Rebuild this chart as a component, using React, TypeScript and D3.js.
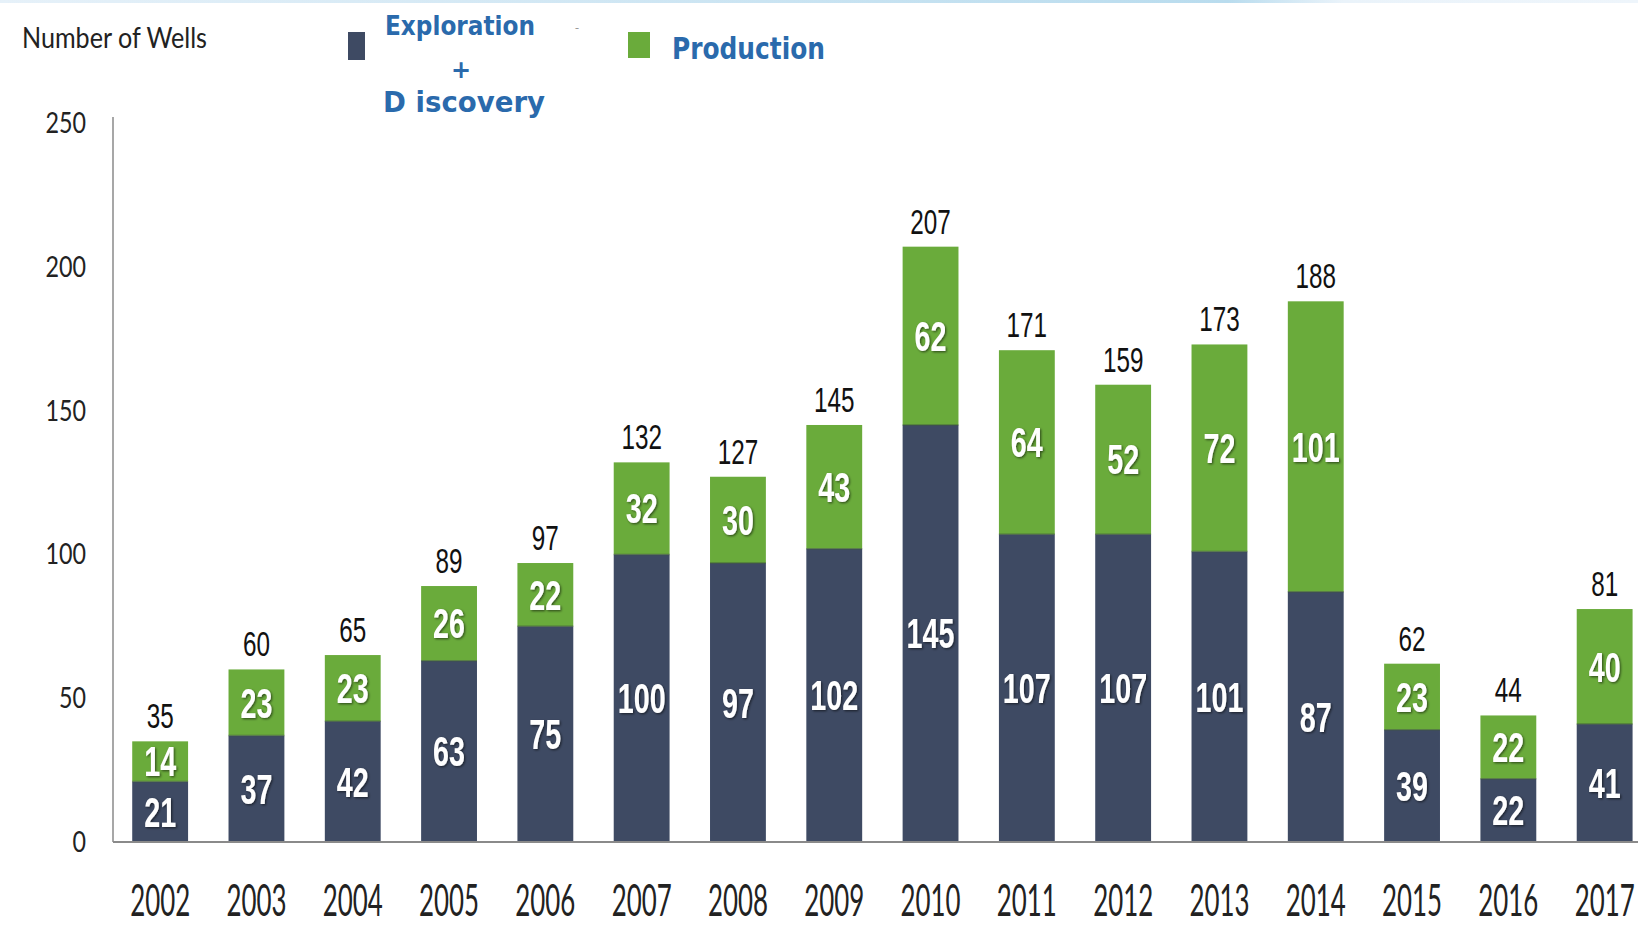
import * as d3 from 'd3'

const YEARS = ['2002', '2003', '2004', '2005', '2006', '2007', '2008', '2009',
  '2010', '2011', '2012', '2013', '2014', '2015', '2016', '2017']
const EXPLORATION = [21, 37, 42, 63, 75, 100, 97, 102, 145, 107, 107, 101, 87, 39, 22, 41]
const PRODUCTION = [14, 23, 23, 26, 22, 32, 30, 43, 62, 64, 52, 72, 101, 23, 22, 40]
const Y_TICKS = [0, 50, 100, 150, 200, 250]

const DARK = '#3e4a63'
const GREEN = '#6aab3b'
const BLUE = '#2a6aac'

const W = 1638
const H = 926

export default function App() {
  const x = d3.scaleBand<string>()
    .domain(YEARS)
    .range([112, 112 + 96.3 * YEARS.length])
    .paddingInner(0.42)
    .paddingOuter(0.21)
  const y = d3.scaleLinear().domain([0, 250]).range([842, 123])
  const bw = x.bandwidth()

  const rows = YEARS.map((yr, i) => ({
    year: yr,
    exp: EXPLORATION[i],
    prod: PRODUCTION[i],
    total: EXPLORATION[i] + PRODUCTION[i],
  }))

  const narrow = '"Liberation Sans", Arial, sans-serif'
  const calibri = 'Lato, "Open Sans", sans-serif'

  return (
    <svg width={W} height={H} style={{ position: 'absolute', left: 0, top: 0, background: '#fff' }}>
      <defs>
        <filter id="shadow" x="-20%" y="-20%" width="140%" height="140%">
          <feDropShadow dx="1.2" dy="1.2" stdDeviation="0.8" floodColor="#000" floodOpacity="0.55" />
        </filter>
        <linearGradient id="topband" x1="0" x2="1">
          <stop offset="0" stopColor="#e6f1f9" />
          <stop offset="0.75" stopColor="#b9dcee" />
          <stop offset="0.82" stopColor="#eaf3fa" />
          <stop offset="1" stopColor="#eef5fb" />
        </linearGradient>
      </defs>
      <rect x={0} y={0} width={W} height={3} fill="url(#topband)" />

      {/* legend */}
      <text x={22} y={48} fontFamily={calibri} fontSize={28} fill="#222"
        textLength={185} lengthAdjust="spacingAndGlyphs">Number of Wells</text>
      <rect x={348} y={32} width={17} height={28} fill={DARK} />
      <g fontFamily='"DejaVu Sans", Verdana, sans-serif' fontWeight="bold" fill={BLUE}>
        <text x={385} y={35} fontSize={27} textLength={150} lengthAdjust="spacingAndGlyphs">Exploration</text>
        <text x={461} y={78} fontSize={24} textAnchor="middle">+</text>
        <text x={383} y={112} fontSize={28} textLength={162} lengthAdjust="spacingAndGlyphs">D iscovery</text>
        <text x={672} y={59} fontSize={30} textLength={153} lengthAdjust="spacingAndGlyphs">Production</text>
      </g>
      <text x={577} y={32} fontSize={12} fill="#999" textAnchor="middle">-</text>
      <rect x={628} y={32} width={22} height={26} fill={GREEN} />

      {/* y axis */}
      <line x1={113} x2={113} y1={117} y2={842} stroke="#8a8a8a" strokeWidth={1.5} />
      {Y_TICKS.map(t => (
        <text key={t} x={86} y={y(t) + 10} textAnchor="end" fontFamily={calibri} fontSize={28}
          fill="#222" textLength={String(t).length * 13.5} lengthAdjust="spacingAndGlyphs">{t}</text>
      ))}

      {/* bars */}
      {rows.map(d => {
        const x0 = x(d.year) ?? 0
        const cx = x0 + bw / 2
        const yExpTop = y(d.exp)
        const yTop = y(d.total)
        const labelW = (v: number) => String(v).length * 16
        return (
          <g key={d.year}>
            <rect x={x0} y={yExpTop} width={bw} height={y(0) - yExpTop} fill={DARK} />
            <rect x={x0} y={yTop} width={bw} height={yExpTop - yTop} fill={GREEN} />
            <line x1={x0} x2={x0 + bw} y1={yExpTop} y2={yExpTop} stroke="#3f5a3a" strokeWidth={1.5} opacity={0.6} />
            <g fontFamily={narrow} fontWeight="bold" fill="#fff" textAnchor="middle" filter="url(#shadow)" fontSize={42}>
              <text x={cx} y={(yExpTop + y(0)) / 2 + 15} textLength={labelW(d.exp)} lengthAdjust="spacingAndGlyphs">{d.exp}</text>
              <text x={cx} y={(yTop + yExpTop) / 2 + 15} textLength={labelW(d.prod)} lengthAdjust="spacingAndGlyphs">{d.prod}</text>
            </g>
            <text x={cx} y={yTop - 13} fontFamily={narrow} fontSize={35} fill="#111" textAnchor="middle"
              textLength={String(d.total).length * 13.5} lengthAdjust="spacingAndGlyphs">{d.total}</text>
            <text x={cx} y={916} fontFamily={calibri} fontSize={44} fill="#222" textAnchor="middle"
              textLength={60} lengthAdjust="spacingAndGlyphs">{d.year}</text>
          </g>
        )
      })}

      {/* baseline */}
      <line x1={113} x2={W} y1={842} y2={842} stroke="#8a8a8a" strokeWidth={2} />
    </svg>
  )
}
